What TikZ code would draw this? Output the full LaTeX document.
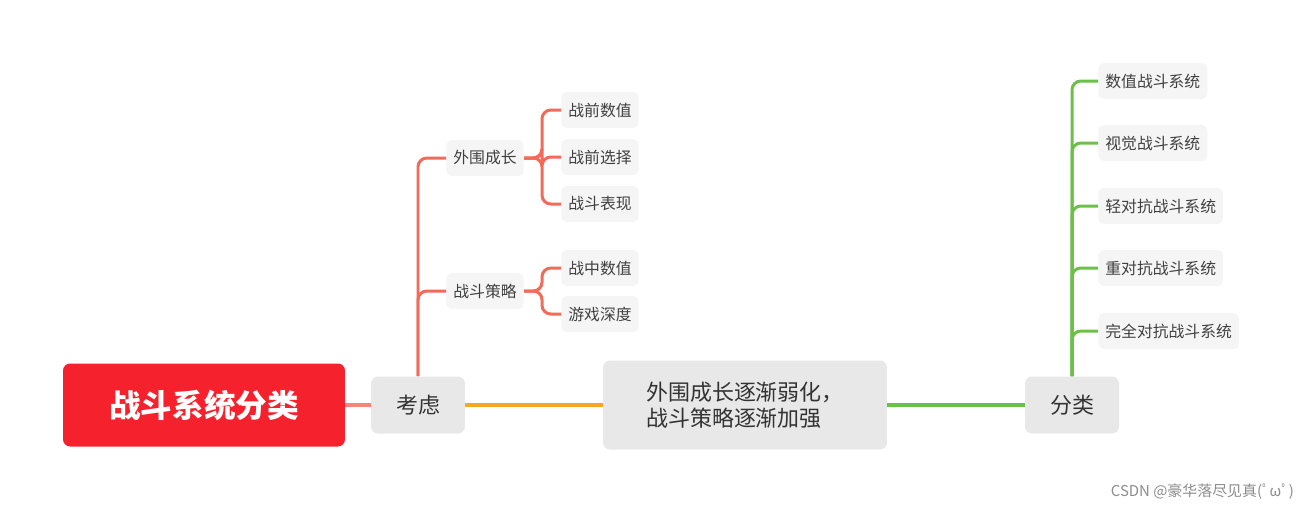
\documentclass[tikz,border=0pt]{standalone}
\usepackage{fontspec}
\setmainfont{Noto Sans CJK SC}
\usetikzlibrary{positioning,calc}
\definecolor{mainred}{HTML}{F5222D}
\definecolor{boxgray}{HTML}{E8E8E8}
\definecolor{leafgray}{HTML}{F5F5F5}
\definecolor{coral}{HTML}{F26B58}
\definecolor{linkred}{HTML}{F5857A}
\definecolor{orangeln}{HTML}{F5A623}
\definecolor{greenln}{HTML}{6CC04A}
\begin{document}
\begin{tikzpicture}[x=0.02cm,y=-0.02cm]
	\tikzstyle{topic}=[rectangle,rounded corners=4pt,fill=boxgray,text=black!80,
						font=\fontsize{12.5}{15}\selectfont,inner sep=0pt]
	\tikzstyle{leaf}=[rectangle,rounded corners=3pt,fill=leafgray,text=black!75,
						font=\fontsize{9}{11}\selectfont,minimum height=0.72cm,inner xsep=4pt]
	\tikzstyle{branch}=[coral,line width=1.7pt,rounded corners=5pt]
	\tikzstyle{gbranch}=[greenln,line width=1.7pt,rounded corners=5pt]

	\useasboundingbox (0,0) rectangle (1315,512);

	% centre topics
	\node[rectangle,rounded corners=4pt,fill=mainred,text=white,
		font=\fontsize{18}{22}\selectfont\bfseries,minimum width=5.64cm,minimum height=1.66cm]
		(root) at (204,405) {战斗系统分类};
	\node[topic,minimum width=1.88cm,minimum height=1.14cm] (kaolv) at (418,405) {考虑};
	\node[topic,minimum width=5.68cm,minimum height=1.78cm,align=left] (trend) at (745,405)
		{外围成长逐渐弱化，\\战斗策略逐渐加强};
	\node[topic,minimum width=1.88cm,minimum height=1.14cm] (fenlei) at (1072,405) {分类};

	% left subtopics
	\node[leaf] (outer) at (485,158) {外围成长};
	\node[leaf] (strat) at (485,291) {战斗策略};
	\foreach \name/\y/\txt in {a/110/战前数值, b/157/战前选择, c/204/战斗表现}
		\node[leaf,anchor=west] (\name) at (561,\y) {\txt};
	\foreach \name/\y/\txt in {d/268/战中数值, e/314/游戏深度}
		\node[leaf,anchor=west] (\name) at (561,\y) {\txt};

	% right leaves
	\foreach \name/\y/\txt in {r1/81/数值战斗系统, r2/143/视觉战斗系统, r3/206/轻对抗战斗系统,
			r4/268/重对抗战斗系统, r5/331/完全对抗战斗系统}
		\node[leaf,anchor=west] (\name) at (1098,\y) {\txt};

	% edges
	\draw[linkred,line width=2.2pt] (root) -- (kaolv);
	\draw[orangeln,line width=2.2pt] (kaolv) -- (trend);
	\draw[greenln,line width=2.2pt] (trend) -- (fenlei);

	\draw[branch] (kaolv.north) |- (outer.west);
	\draw[branch] (kaolv.north) |- (strat.west);
	\foreach \leafname in {a,b,c}
		\draw[branch] (outer.east) -- +(18,0) |- (\leafname.west);
	\foreach \leafname in {d,e}
		\draw[branch] (strat.east) -- +(18,0) |- (\leafname.west);
	\foreach \leafname in {r1,r2,r3,r4,r5}
		\draw[gbranch] (fenlei.north) |- (\leafname.west);

	% watermark
	\node[text=black!45,font=\fontsize{8.5}{10}\selectfont,anchor=east] (mark) at (1300,492)
		{CSDN @豪华落尽见真(ﾟωﾟ)};
\end{tikzpicture}
\end{document}
